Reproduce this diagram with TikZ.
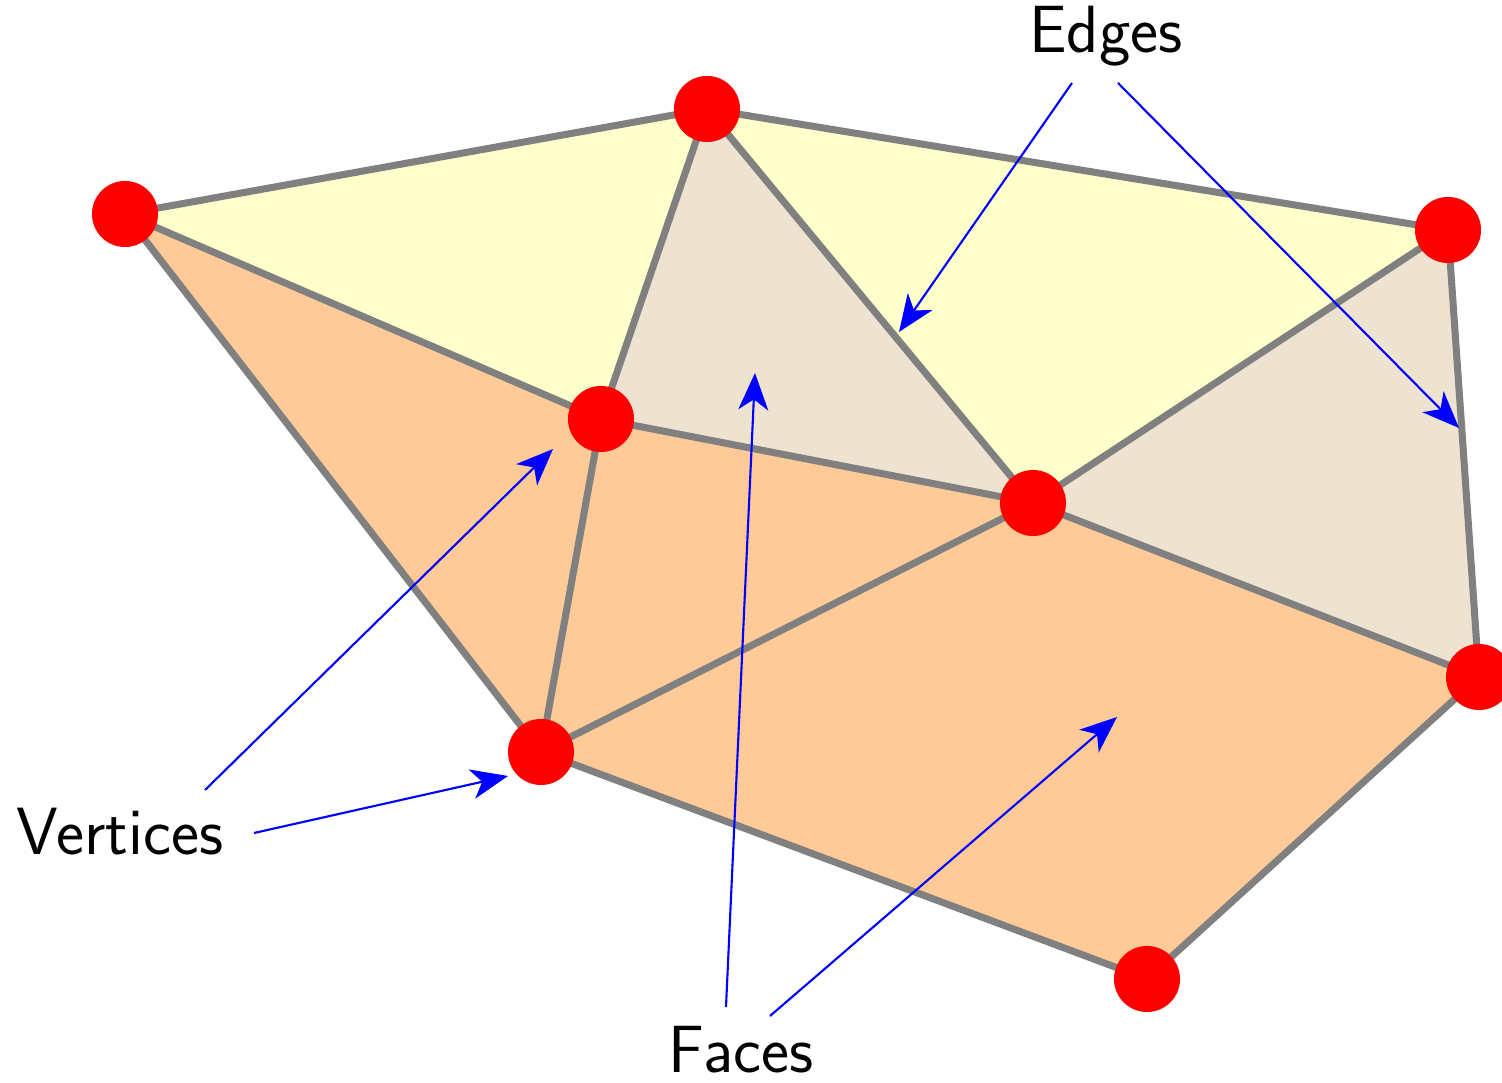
\documentclass[tikz,border=0pt]{standalone}
\usepackage{xcolor}
\usepackage{tikz}
\usetikzlibrary{arrows.meta}

\definecolor{faceyellow}{RGB}{255,255,204}
\definecolor{facebeige}{RGB}{238,226,208}
\definecolor{faceorange}{RGB}{253,202,152}
\definecolor{edgegray}{RGB}{128,128,128}

\begin{document}
\begin{tikzpicture}[x=0.01cm, y=-0.01cm,
    >={Stealth[length=10.5pt, width=8.5pt, inset=3pt]},
    vertex/.style={circle, fill=red, minimum size=0.66cm, inner sep=0pt},
    edge/.style={edgegray, line width=2pt},
    pointer/.style={->, blue, line width=0.6pt},
    tag/.style={font=\sffamily\fontsize{19}{22}\selectfont, anchor=base}]
    \useasboundingbox (0,0) rectangle (1502,1083);

    % 1. Vertex positions
    \coordinate (A) at (125, 214);
    \coordinate (B) at (707, 109);
    \coordinate (C) at (1448, 230);
    \coordinate (D) at (601, 419);
    \coordinate (E) at (1033, 503);
    \coordinate (F) at (1479, 677);
    \coordinate (G) at (541, 752);
    \coordinate (H) at (1147, 979);

    % 2. Faces
    \fill[faceyellow] (A) -- (B) -- (D) -- cycle;
    \fill[faceyellow] (B) -- (C) -- (E) -- cycle;
    \fill[facebeige] (B) -- (D) -- (E) -- cycle;
    \fill[facebeige] (C) -- (E) -- (F) -- cycle;
    \fill[faceorange] (A) -- (D) -- (G) -- cycle;
    \fill[faceorange] (D) -- (E) -- (G) -- cycle;
    \fill[faceorange] (G) -- (E) -- (F) -- (H) -- cycle;

    % 3. Edges
    \foreach \u/\v in {A/B, B/C, A/D, B/D, B/E, C/E, C/F, D/E, E/F, A/G, D/G, G/E, G/H, H/F}
        \draw[edge] (\u) -- (\v);

    % 4. Vertices
    \foreach \p in {A, B, C, D, E, F, G, H}
        \node[vertex] (v\p) at (\p) {};

    % 5. Labels
    \node[tag] (edges) at (1106, 53) {Edges};
    \node[tag] (vertices) at (120, 855) {Vertices};
    \node[tag] (faces) at (741, 1073) {Faces};

    % 6. Pointers from the labels
    \coordinate (e1) at (1072, 83);
    \coordinate (e2) at (1118, 83);
    \coordinate (et1) at (899, 332);
    \coordinate (et2) at (1459, 428);
    \coordinate (v1) at (205, 790);
    \coordinate (v2) at (254, 833);
    \coordinate (vt1) at (553, 449);
    \coordinate (vt2) at (508, 776);
    \coordinate (f1) at (726, 1007);
    \coordinate (f2) at (770, 1016);
    \coordinate (ft1) at (755, 373);
    \coordinate (ft2) at (1117, 717);

    \draw[pointer] (e1) -- (et1);
    \draw[pointer] (e2) -- (et2);
    \draw[pointer] (v1) -- (vt1);
    \draw[pointer] (v2) -- (vt2);
    \draw[pointer] (f1) -- (ft1);
    \draw[pointer] (f2) -- (ft2);
\end{tikzpicture}
\end{document}
